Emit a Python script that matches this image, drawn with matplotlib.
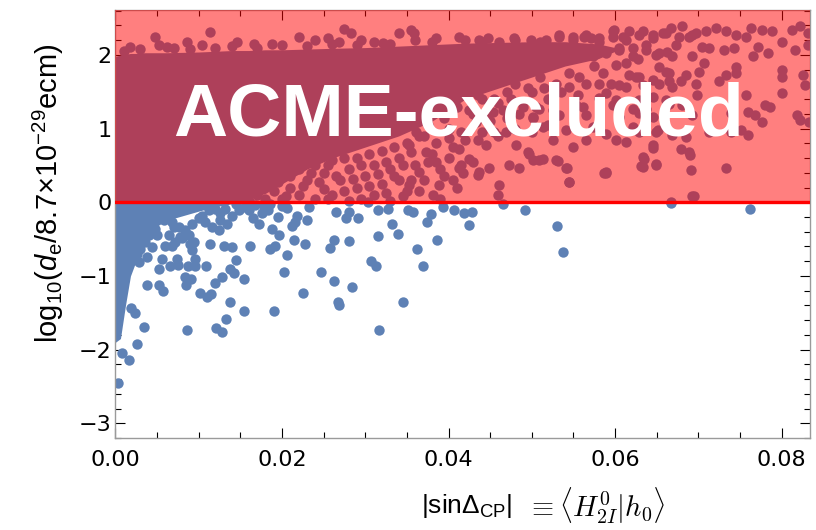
import matplotlib
matplotlib.use('Agg')
import matplotlib.pyplot as plt
from matplotlib.ticker import MultipleLocator, FormatStrFormatter

plt.rcParams['mathtext.fontset'] = 'custom'
plt.rcParams['mathtext.rm'] = 'Liberation Sans'
plt.rcParams['mathtext.it'] = 'Liberation Sans:italic'

# solid (over-plotted) core of the scan: lower and upper envelope
band_x = [0.0, 0.0006, 0.0012, 0.0018, 0.0024, 0.0032, 0.004, 0.006, 0.010, 0.012, 0.014,
          0.016, 0.018, 0.020, 0.023, 0.026, 0.030, 0.034, 0.038, 0.042, 0.046, 0.050,
          0.054, 0.058, 0.060]
band_lo = [-1.90, -1.85, -1.40, -1.00, -0.82, -0.60, -0.40, -0.25, -0.12, -0.06, -0.02,
           0.05, 0.12, 0.25, 0.45, 0.60, 0.75, 0.90, 1.10, 1.40, 1.55, 1.70,
           1.85, 1.95, 2.05]
band_hi = [1.98, 2.00, 2.01, 2.02, 2.02, 2.03, 2.03, 2.03, 2.04, 2.05, 2.06,
           2.06, 2.07, 2.07, 2.08, 2.09, 2.10, 2.12, 2.14, 2.16, 2.17, 2.18,
           2.18, 2.15, 2.10]

# individual points below the ACME bound
low_x = [0.0008, 0.0016, 0.0003, 0.0026, 0.0034, 0.0038, 0.0052, 0.0057, 0.0019, 0.0023,
         0.0086, 0.0121, 0.0128, 0.0133, 0.0138, 0.0154, 0.0190, 0.0102, 0.0110, 0.0115,
         0.0119, 0.0128, 0.0085, 0.0083, 0.0091, 0.0052, 0.0056, 0.0065, 0.0075, 0.0074,
         0.0087, 0.0096, 0.0095, 0.0109, 0.0145, 0.0138, 0.0142, 0.0154, 0.0114, 0.0130,
         0.0140, 0.0161, 0.0185, 0.0188, 0.0060, 0.0044, 0.0038, 0.0028, 0.0068, 0.0090,
         0.0092, 0.0080, 0.0040, 0.0036, 0.0030, 0.0026, 0.0048, 0.0058, 0.0068, 0.0076,
         0.0084, 0.0092, 0.0064, 0.0072, 0.0078, 0.0088, 0.0094, 0.0104, 0.0108, 0.0116,
         0.0124, 0.0126, 0.0134, 0.0140, 0.0148, 0.0120, 0.0132, 0.0156, 0.0168, 0.0176,
         0.0165, 0.0172, 0.0183, 0.0195, 0.0200, 0.0202, 0.0225, 0.0247, 0.0263, 0.0267,
         0.0268, 0.0284, 0.0317, 0.0345, 0.0307, 0.0313, 0.0369, 0.0362, 0.0386, 0.0339,
         0.0332, 0.0315, 0.0281, 0.0263, 0.0258, 0.0228, 0.0214, 0.0206, 0.0192, 0.0196,
         0.0212, 0.0216, 0.0218, 0.0230, 0.0233, 0.0206, 0.0265, 0.0277, 0.0281, 0.0291,
         0.0315, 0.0327, 0.0351, 0.0357, 0.0374, 0.0379, 0.0393, 0.0407, 0.0419, 0.0425,
         0.0303, 0.0428, 0.0466, 0.0492, 0.0530, 0.0538, 0.0667, 0.0762,
         0.0145, 0.0160, 0.0185, 0.0178, 0.0125, 0.0112, 0.0100, 0.0070, 0.0050, 0.0044]
low_y = [-2.04, -2.14, -2.46, -1.92, -1.69, -1.12, -1.12, -1.21, -1.44, -1.50,
         -1.74, -1.71, -1.76, -1.58, -1.36, -1.47, -1.47, -1.23, -1.29, -1.25,
         -1.10, -1.02, -1.12, -1.02, -1.04, -0.90, -0.77, -0.86, -0.85, -0.77,
         -0.86, -0.77, -0.86, -0.86, -0.78, -0.90, -0.96, -1.04, -0.56, -0.59,
         -0.61, -0.59, -0.64, -0.36, -0.59, -0.61, -0.74, -0.81, -0.59, -0.56,
         -0.65, -0.49, -0.45, -0.54, -0.63, -0.70, -0.36, -0.24, -0.27, -0.34,
         -0.38, -0.29, -0.45, -0.54, -0.47, -0.45, -0.54, -0.18, -0.27, -0.34,
         -0.38, -0.24, -0.29, -0.18, -0.11, -0.09, -0.09, -0.06, -0.04, -0.15,
         -0.22, -0.30, -0.10, -0.20, -0.05, -0.94, -1.23, -0.94, -1.07, -1.36,
         -1.40, -1.15, -1.74, -1.36, -0.80, -0.86, -0.86, -0.64, -0.51, -0.43,
         -0.30, -0.46, -0.53, -0.51, -0.62, -0.56, -0.51, -0.72, -0.59, -0.44,
         -0.32, -0.27, -0.18, -0.24, -0.06, -0.08, -0.13, -0.21, -0.13, -0.21,
         -0.11, -0.09, -0.11, -0.13, -0.27, -0.16, -0.06, -0.11, -0.15, -0.31,
         0.00, -0.13, -0.03, -0.11, -0.32, -0.68, -0.01, -0.09,
         -0.03, -0.10, -0.02, -0.05, -0.15, -0.10, -0.22, -0.33, -0.45, -0.28]

# individual points inside the excluded region
high_x = [0.0018, 0.0048, 0.0052, 0.0062, 0.0086, 0.0104, 0.0114, 0.0146, 0.0166, 0.0188,
          0.0220, 0.0240, 0.0255, 0.0268, 0.0275, 0.0283, 0.0295, 0.0321, 0.0341, 0.0355,
          0.0359, 0.0385, 0.0413, 0.0437, 0.0447, 0.0461, 0.0479, 0.0499, 0.0517, 0.0533,
          0.0549, 0.0563, 0.0571, 0.0581, 0.0597,
          0.0010, 0.0030, 0.0070, 0.0090, 0.0120, 0.0140, 0.0170, 0.0200, 0.0230, 0.0260,
          0.0290, 0.0310, 0.0330, 0.0360, 0.0380, 0.0420, 0.0440, 0.0480, 0.0510,
          0.0130, 0.0150, 0.0160, 0.0170, 0.0180, 0.0190, 0.0195, 0.0200, 0.0210, 0.0210,
          0.0220, 0.0220, 0.0230, 0.0240, 0.0240, 0.0250, 0.0250, 0.0260, 0.0260, 0.0270,
          0.0280, 0.0280, 0.0290, 0.0290, 0.0300, 0.0310, 0.0310, 0.0320, 0.0320, 0.0330,
          0.0330, 0.0340, 0.0340, 0.0350, 0.0350, 0.0360, 0.0360, 0.0370, 0.0370, 0.0380,
          0.0380, 0.0390, 0.0390, 0.0400, 0.0400, 0.0410, 0.0410, 0.0420, 0.0430, 0.0430,
          0.0440, 0.0440, 0.0450, 0.0460, 0.0460, 0.0470, 0.0470, 0.0480, 0.0480, 0.0490,
          0.0500, 0.0500, 0.0510, 0.0520, 0.0520,
          0.0349, 0.0361, 0.0353, 0.0373, 0.0385, 0.0365, 0.0353, 0.0389, 0.0381,
          0.0401, 0.0413, 0.0425, 0.0413, 0.0437, 0.0449, 0.0461, 0.0459, 0.0473, 0.0485,
          0.0495, 0.0501, 0.0513, 0.0529, 0.0541, 0.0545, 0.0481, 0.0469, 0.0445, 0.0433,
          0.0453, 0.0501, 0.0509, 0.0533, 0.0553, 0.0565, 0.0581, 0.0589,
          0.0587, 0.0545, 0.0542, 0.0531, 0.0633, 0.0649, 0.0631, 0.0693, 0.0435, 0.0417,
          0.0405, 0.0509, 0.0497,
          0.0529, 0.0545, 0.0557, 0.0581, 0.0589, 0.0601, 0.0613, 0.0625, 0.0629, 0.0645,
          0.0653, 0.0665, 0.0669, 0.0665, 0.0605, 0.0621, 0.0629, 0.0645, 0.0561, 0.0573,
          0.0589, 0.0601, 0.0565, 0.0549, 0.0541, 0.0525, 0.0513, 0.0501,
          0.0533, 0.0549, 0.0565, 0.0581, 0.0597, 0.0613, 0.0629, 0.0645, 0.0661, 0.0677,
          0.0693, 0.0541, 0.0557, 0.0573, 0.0589, 0.0605, 0.0621, 0.0637, 0.0653, 0.0669,
          0.0599, 0.0609, 0.0617, 0.0633, 0.0645, 0.0657, 0.0667, 0.0681, 0.0689, 0.0697,
          0.0709, 0.0721, 0.0733, 0.0745, 0.0757, 0.0763, 0.0776, 0.0788, 0.0800, 0.0812,
          0.0822, 0.0832, 0.0832,
          0.0605, 0.0621, 0.0637, 0.0649, 0.0663, 0.0673, 0.0693, 0.0705, 0.0713, 0.0731,
          0.0743, 0.0766, 0.0772, 0.0784, 0.0816,
          0.0601, 0.0613, 0.0627, 0.0617, 0.0629, 0.0653, 0.0661, 0.0665, 0.0685, 0.0701,
          0.0707, 0.0725, 0.0733, 0.0745, 0.0745, 0.0800, 0.0800, 0.0800, 0.0826, 0.0828,
          0.0605, 0.0633, 0.0645, 0.0679, 0.0697, 0.0757,
          0.0597, 0.0621, 0.0637, 0.0661, 0.0681, 0.0693, 0.0699, 0.0739, 0.0739, 0.0751,
          0.0760, 0.0768, 0.0776, 0.0780, 0.0786, 0.0818, 0.0822, 0.0833, 0.0649, 0.0651,
          0.0669, 0.0685, 0.0713, 0.0760, 0.0613, 0.0629,
          0.0645, 0.0646, 0.0679, 0.0689, 0.0690, 0.0635, 0.0633, 0.0649, 0.0691, 0.0733,
          0.0695, 0.0667, 0.0589,
          0.0205, 0.0215, 0.0225, 0.0235, 0.0245, 0.0255, 0.0255, 0.0265, 0.0275, 0.0275,
          0.0285, 0.0295, 0.0295, 0.0305, 0.0305, 0.0315, 0.0325, 0.0325, 0.0335, 0.0335,
          0.0345, 0.0345, 0.0355, 0.0355, 0.0365, 0.0365, 0.0375, 0.0375, 0.0385, 0.0395,
          0.0395, 0.0405, 0.0405, 0.0415, 0.0415, 0.0425, 0.0435, 0.0435, 0.0445, 0.0455,
          0.0455, 0.0465, 0.0475, 0.0485, 0.0495, 0.0505, 0.0515, 0.0525, 0.0535, 0.0545,
          0.0555, 0.0565, 0.0575, 0.0585, 0.0595]
high_y = [2.11, 2.25, 2.14, 2.11, 2.18, 2.14, 2.31, 2.18, 2.15, 2.15,
          2.25, 2.20, 2.23, 2.18, 2.35, 2.30, 2.20, 2.16, 2.30, 2.34,
          2.30, 2.23, 2.25, 2.20, 2.23, 2.18, 2.23, 2.20, 2.20, 2.27,
          2.25, 2.25, 2.23, 2.18, 2.32,
          2.05, 2.08, 2.10, 2.08, 2.10, 2.12, 2.10, 2.13, 2.12, 2.15,
          2.14, 2.17, 2.15, 2.20, 2.18, 2.20, 2.18, 2.20, 2.17,
          0.02, 0.05, 0.02, 0.10, 0.05, 0.15, 0.28, 0.05, 0.20, 0.35,
          0.10, 0.45, 0.30, 0.05, 0.50, 0.18, 0.40, 0.58, 0.10, 0.30,
          0.45, 0.02, 0.60, 0.20, 0.35, 0.50, 0.10, 0.70, 0.25, 0.45,
          0.02, 0.60, 0.30, 0.80, 0.15, 0.50, 1.10, 0.90, 0.30, 0.65,
          1.20, 0.05, 0.45, 1.00, 0.60, 1.30, 0.20, 0.85, 1.20, 0.55,
          1.40, 0.95, 1.10, 1.35, 0.90, 1.50, 1.15, 1.00, 1.60, 1.30,
          1.50, 0.95, 1.70, 1.40, 1.05,
          1.05, 0.96, 0.78, 0.68, 0.55, 0.41, 0.23, 0.23, 0.10,
          0.87, 0.73, 0.59, 0.46, 0.41, 0.46, 0.23, 0.10, 0.50, 0.46,
          0.68, 0.57, 0.59, 0.57, 0.46, 0.28, 0.78, 0.96, 0.78, 1.09,
          1.23, 1.14, 1.27, 1.18, 1.32, 1.18, 1.41, 0.41,
          0.40, 0.28, 0.46, 0.56, 0.61, 0.52, 0.49, 0.08, 0.37, 0.40,
          0.30, 0.57, 0.66,
          1.61, 1.57, 1.70, 1.61, 1.48, 1.39, 1.57, 1.70, 1.39, 1.43,
          1.61, 1.75, 1.57, 1.34, 1.16, 1.02, 1.21, 1.16, 1.30, 1.02,
          0.93, 0.84, 0.84, 0.75, 0.98, 0.84, 1.02, 1.16,
          2.25, 2.20, 2.27, 2.23, 2.25, 2.20, 2.27, 2.23, 2.30, 2.25,
          2.27, 2.02, 2.07, 1.98, 2.02, 2.07, 1.98, 2.07, 2.02, 1.98,
          2.34, 2.25, 2.32, 2.32, 2.27, 2.30, 2.36, 2.39, 2.25, 2.30,
          2.32, 2.36, 2.32, 2.27, 2.25, 2.36, 2.34, 2.32, 2.18, 2.34,
          2.39, 2.30, 2.14,
          2.09, 2.09, 2.14, 2.00, 2.04, 2.14, 1.98, 2.11, 2.09, 2.07,
          2.09, 1.98, 2.11, 2.02, 2.07,
          1.86, 1.89, 1.95, 1.73, 1.70, 1.84, 1.77, 1.64, 1.73, 1.77,
          1.89, 1.64, 1.73, 1.84, 1.75, 1.80, 1.70, 1.48, 1.73, 1.59,
          1.59, 1.59, 1.66, 1.64, 1.61, 1.46,
          1.32, 1.27, 1.27, 1.39, 1.32, 1.18, 1.46, 1.21, 0.96, 0.98,
          1.23, 1.18, 1.09, 1.32, 1.30, 1.18, 1.12, 1.09, 0.96, 0.98,
          0.91, 0.89, 0.96, 0.91, 0.82, 0.96,
          0.78, 0.74, 0.73, 0.68, 0.64, 0.59, 0.48, 0.50, 0.44, 0.46,
          0.09, 0.01, 0.40,
          0.08, 0.50, 0.22, 0.40, 0.28, 0.05, 0.50, 0.35, 0.15, 0.60,
          0.32, 0.50, 0.05, 0.65, 0.22, 0.38, 0.55, 0.12, 0.75, 0.35,
          0.50, 0.08, 0.68, 0.30, 0.90, 0.15, 0.55, 1.05, 0.80, 0.35,
          1.15, 0.75, 1.35, 0.95, 0.50, 1.25, 0.85, 1.45, 1.15, 0.95,
          1.40, 1.25, 1.40, 1.20, 1.55, 1.30, 1.55, 1.25, 1.50, 1.75,
          1.45, 1.60, 1.85, 1.75, 1.60]

acme_bound = 0.0
xticks = [0.0, 0.02, 0.04, 0.06, 0.08]
yticks = [-3, -2, -1, 0, 1, 2]

blue = '#5E81B5'
dot = 56

fig = plt.figure(figsize=(8.16, 5.30), dpi=100)
ax = fig.add_axes([0.1415, 0.1736, 0.851, 0.8075])

ax.fill_between(band_x, band_lo, band_hi, color=blue, lw=0, zorder=2)
ax.scatter(low_x, low_y, s=dot, color=blue, linewidths=0, zorder=2)
ax.scatter(high_x, high_y, s=dot, color=blue, linewidths=0, zorder=2)

# excluded region on top of the points
ax.axhspan(acme_bound, 3.0, color='red', alpha=0.5, lw=0, zorder=3)
ax.axhline(acme_bound, color='red', lw=2.4, zorder=4)

ax.text(0.0412, 0.913, 'ACME-excluded', color='white', fontsize=54, fontweight='bold',
        family=['Liberation Sans', 'DejaVu Sans'], ha='center', va='baseline', zorder=5)

ax.set_xlim(0, 0.0834)
ax.set_ylim(-3.2, 2.61)
ax.set_xticks(xticks)
ax.set_yticks(yticks)
ax.xaxis.set_major_formatter(FormatStrFormatter('%.2f'))
ax.xaxis.set_minor_locator(MultipleLocator(0.005))
ax.yaxis.set_minor_locator(MultipleLocator(0.2))
ax.tick_params(which='both', direction='in', top=True, right=True, color='black', width=0.8)
ax.tick_params(which='major', length=7)
ax.tick_params(which='minor', length=4)
ax.tick_params(axis='x', labelsize=16, pad=9)
ax.tick_params(axis='y', labelsize=16, pad=3)
for sp in ax.spines.values():
    sp.set_color('#9a9a9a')
    sp.set_linewidth(1.0)

fig.text(512 / 816, 1 - 506 / 530, r'|sinΔ$_\mathrm{CP}$|',
         fontsize=19, family='Liberation Sans', math_fontfamily='custom',
         ha='right', va='center')
fig.text(527 / 816, 1 - 506 / 530, r'$\equiv\langle H^0_{2I}|h_0\rangle$',
         fontsize=20.5, math_fontfamily='cm', ha='left', va='center')
fig.text(48 / 816, 1 - 193 / 530,
         r'log$_\mathrm{10}$($d_\mathrm{e}$/8.7×10$^\mathrm{−29}$ecm)',
         fontsize=21, family='Liberation Sans', math_fontfamily='custom',
         rotation=90, ha='center', va='center')

fig.savefig('out.png', dpi=100)
